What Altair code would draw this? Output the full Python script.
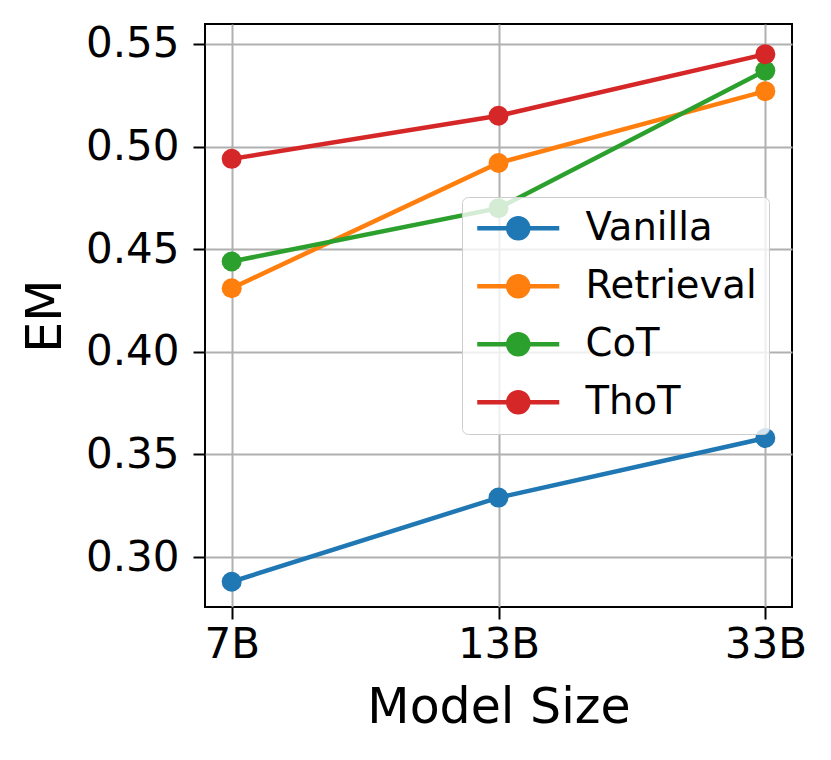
import altair as alt
import pandas as pd

sizes = ["7B", "13B", "33B"]
methods = ["Vanilla", "Retrieval", "CoT", "ThoT"]
vanilla = [0.288, 0.329, 0.358]
retrieval = [0.431, 0.492, 0.527]
cot = [0.444, 0.470, 0.537]
thot = [0.494, 0.515, 0.545]
colors = ["#1f77b4", "#ff7f0e", "#2ca02c", "#d62728"]

rows = []
for m, vals in zip(methods, [vanilla, retrieval, cot, thot]):
    for i, (s, v) in enumerate(zip(sizes, vals)):
        rows.append({"method": m, "idx": i, "size": s, "EM": v})
df = pd.DataFrame(rows)

label_expr = "[" + ",".join(f"'{s}'" for s in sizes) + "][round(datum.value)]"

x = alt.X("idx:Q", title="Model Size",
          scale=alt.Scale(domain=[-0.1, 2.1], nice=False, zero=False),
          axis=alt.Axis(values=[0, 1, 2], labelExpr=label_expr))
y = alt.Y("EM:Q", title="EM",
          scale=alt.Scale(domain=[0.2757, 0.5597], nice=False, zero=False),
          axis=alt.Axis(values=[0.30, 0.35, 0.40, 0.45, 0.50, 0.55], format=".2f"))
color = alt.Color("method:N", sort=methods,
                  scale=alt.Scale(domain=methods, range=colors),
                  legend=alt.Legend(title=None, orient="none", legendX=257, legendY=173,
                                    symbolType="M-4.1,0L4.1,0M-1,0A1,1,0,1,1,1,0A1,1,0,1,1,-1,0Z",
                                    symbolSize=400, symbolStrokeWidth=4.5,
                                    symbolOffset=25, labelOffset=48, rowPadding=19,
                                    labelLimit=400,
                                    fillColor="rgba(255,255,255,0.8)",
                                    strokeColor="#cccccc", cornerRadius=6,
                                    padding=12, labelFontSize=38.5,
                                    labelFont="DejaVu Sans", labelColor="black"))

lines = alt.Chart(df).mark_line(strokeWidth=4.5).encode(x=x, y=y, color=color, order="idx:Q")
points = alt.Chart(df).mark_point(filled=True, size=400, opacity=1).encode(x=x, y=y, color=color)

chart = alt.layer(lines, points).properties(
    width=587, height=583,
    autosize=alt.AutoSizeParams(type="none"),
    padding={"left": 197, "top": 16, "right": 31, "bottom": 145},
).configure_view(stroke="black", strokeWidth=2).configure_axis(
    grid=True, gridColor="#b0b0b0", gridWidth=2,
    domain=False, tickColor="black", tickWidth=2, tickSize=12,
    labelFont="DejaVu Sans", labelFontSize=42, labelColor="black",
    titleFont="DejaVu Sans", titleFontSize=49, titleColor="black", titleFontWeight="normal",
).configure_axisX(labelPadding=5, titlePadding=18).configure_axisY(labelPadding=14, titlePadding=15)

chart.save("out.html", embed_options={"renderer": "svg", "actions": False})
